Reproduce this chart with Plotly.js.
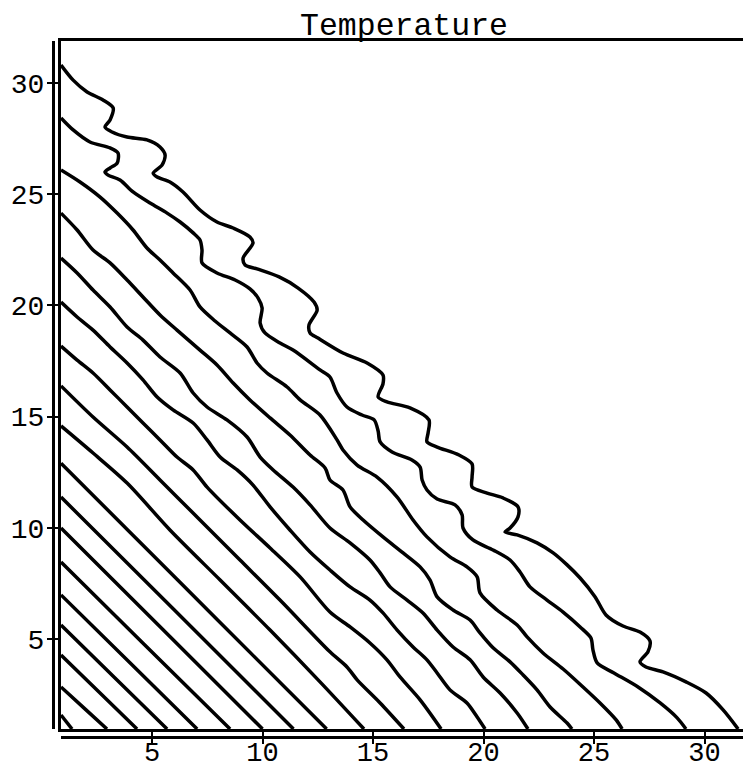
<!DOCTYPE html>
<html>
<head>
<meta charset="utf-8">
<script src="https://cdn.plot.ly/plotly-3.0.1.min.js"></script>
<style>
  html, body { margin: 0; padding: 0; background: #fff; }
  #chart { width: 743px; height: 769px; }
</style>
</head>
<body>
<div id="chart"></div>
<script>
// ---- Data (contour lines of "Temperature") ----
const line1X = [0.88,1.43,2.06,2.78,3.24,3.10,2.87,3.19,3.87,4.77,5.36,5.59,5.45,5.05,5.23,5.81,6.40,7.17,7.94,8.67,9.43,9.57,9.12,9.21,9.75,10.75,11.61,12.33,12.47,12.10,12.15,12.51,13.64,14.73,15.45,15.45,15.23,15.63,16.67,17.53,17.49,17.44,17.90,18.89,19.48,19.48,19.48,20.16,20.88,21.56,21.56,21.20,20.97,21.52,22.42,23.15,23.78,24.37,25.05,25.54,26.31,27.08,27.53,27.44,27.08,27.35,28.12,29.16,30.07,30.84,31.52];
const line1Y = [30.81,30.13,29.60,29.24,28.88,28.34,28.02,27.80,27.57,27.44,27.12,26.76,26.31,25.95,25.77,25.55,25.10,24.29,23.75,23.48,23.08,22.81,22.13,21.82,21.64,21.28,20.78,20.15,19.79,19.12,18.76,18.53,17.86,17.41,16.87,16.47,15.88,15.66,15.39,14.85,14.26,13.86,13.63,13.27,12.87,12.28,11.83,11.56,11.34,10.94,10.49,9.99,9.81,9.68,9.32,8.87,8.33,7.74,6.89,6.08,5.58,5.31,4.91,4.42,3.97,3.74,3.52,3.07,2.57,1.81,0.95];

const line2X = [0.88,1.43,2.19,3.10,3.46,3.42,3.10,2.87,3.01,3.55,4.14,4.91,5.68,6.27,6.86,7.17,7.26,7.26,7.94,8.76,9.43,9.80,9.98,9.89,10.11,10.79,11.38,12.60,13.05,13.37,13.82,14.50,15.05,15.23,15.32,15.86,16.76,17.13,17.22,17.44,17.90,18.71,19.03,19.07,19.52,20.43,21.20,21.65,22.10,22.87,23.60,24.37,24.86,24.95,25.14,25.90,26.99,27.99,28.76,29.16];
const line2Y = [28.43,27.89,27.35,27.08,26.85,26.40,26.18,26.00,25.86,25.64,25.10,24.60,24.15,23.75,23.26,22.94,22.49,21.91,21.46,21.14,20.74,20.33,19.88,19.21,18.76,18.31,17.99,17.10,16.78,16.06,15.43,15.07,14.85,14.35,13.86,13.41,13.05,12.73,12.15,11.70,11.29,11.03,10.58,9.99,9.45,9.00,8.55,8.01,7.34,6.75,6.21,5.54,5.04,4.51,3.92,3.47,2.84,2.12,1.45,0.95];

const line3X = [0.88,1.74,2.65,3.42,4.14,4.77,5.36,5.95,6.72,7.17,7.85,8.53,9.30,9.75,10.20,11.11,11.70,12.60,13.37,13.64,14.28,15.18,16.09,16.81,17.44,18.48,19.25,19.71,19.84,20.61,21.52,21.97,22.69,23.60,24.50,25.27,26.00,26.27];
const line3Y = [26.09,25.55,24.87,24.15,23.39,22.58,22.04,21.46,20.69,19.93,19.30,18.76,18.13,17.41,16.96,16.33,15.75,15.07,13.95,13.50,12.82,12.28,11.38,10.35,9.59,8.69,8.24,7.79,7.07,6.30,5.63,5.09,4.37,3.65,2.84,2.12,1.36,0.95];

const line4X = [0.88,1.61,2.33,3.10,3.87,4.59,5.36,6.13,7.17,7.94,8.67,9.43,10.34,11.24,12.15,12.83,13.05,13.64,13.96,14.55,15.45,16.36,17.13,17.58,17.90,18.62,19.39,19.84,20.43,21.20,21.79,22.42,23.01,23.78,24.00];
const line4Y = [24.15,23.39,22.49,21.91,21.14,20.38,19.57,18.89,17.99,17.32,16.51,15.75,14.94,14.17,13.27,12.69,12.15,11.70,10.94,10.35,9.59,8.87,8.24,7.65,6.89,6.30,5.85,5.27,4.60,3.97,3.38,2.71,1.94,1.22,0.95];

const line5X = [0.88,1.61,2.33,3.10,3.87,4.59,5.36,6.27,6.86,7.49,8.39,9.30,9.89,10.48,11.38,12.15,13.05,13.96,14.86,15.32,15.77,16.54,17.26,17.90,18.62,19.39,19.98,20.75,21.52,22.01];
const line5Y = [22.13,21.46,20.69,19.93,19.03,18.44,17.68,16.96,16.06,15.43,14.85,14.08,13.18,12.60,11.83,11.03,9.99,9.32,8.55,7.97,7.34,6.75,6.17,5.40,4.64,4.06,3.29,2.57,1.67,0.95];

const line6X = [0.88,1.61,2.33,3.10,3.87,4.59,5.23,5.95,6.86,7.49,8.08,8.85,9.57,10.34,11.24,12.15,13.05,13.96,14.86,15.45,16.09,16.81,17.44,17.90,18.48,19.25,19.71,20.07];
const line6Y = [20.15,19.48,18.89,18.13,17.41,16.65,15.88,15.30,14.71,13.95,13.18,12.60,11.92,10.94,9.90,8.91,8.10,7.34,6.75,6.17,5.40,4.64,4.06,3.47,2.71,2.12,1.49,0.95];

const line7X = [0.88,1.61,2.33,3.10,3.87,4.59,5.36,6.13,6.86,7.49,8.98,10.34,11.70,13.05,13.96,14.86,15.63,16.22,17.13,18.08];
const line7Y = [18.17,17.54,16.96,16.20,15.43,14.71,13.95,13.18,12.60,11.83,10.35,9.09,7.79,6.21,5.54,4.82,4.06,3.29,2.26,0.95];

const line8X = [0.88,2.33,3.87,5.36,7.17,8.98,10.79,13.05,13.82,14.28,15.32,16.40];
const line8Y = [16.38,14.98,13.63,12.15,10.35,8.55,6.75,4.42,3.74,3.16,2.12,0.95];

const line9X = [0.88,2.33,3.87,5.81,8.08,10.34,12.60,14.59];
const line9Y = [14.58,13.36,12.01,9.90,7.65,5.40,3.07,0.95];

const line10X = [0.88,4.00,8.00,12.90];
const line10Y = [12.90,9.80,5.82,0.95];
const line11X = [0.88,6.00,11.40];
const line11Y = [11.38,6.31,0.95];
const line12X = [0.88,5.50,10.00];
const line12Y = [9.99,5.41,0.95];
const line13X = [0.88,4.50,8.53];
const line13Y = [8.46,4.90,0.95];
const line14X = [0.88,4.00,7.04];
const line14Y = [6.98,3.93,0.95];
const line15X = [0.88,3.30,5.68];
const line15Y = [5.63,3.27,0.95];
const line16X = [0.88,2.60,4.32];
const line16Y = [4.28,2.61,0.95];
const line17X = [0.88,2.00,2.96];
const line17Y = [2.84,1.82,0.95];
const line18X = [0.88,1.38];
const line18Y = [1.58,0.95];

const tickVals = [5, 10, 15, 20, 25, 30];
const tickLabels = ['5', '10', '15', '20', '25', '30'];
const chartTitle = 'Temperature';

const xRange = [0.88, 31.74];
const yRange = [0.95, 31.89];

// ---- Build traces ----
const contourLines = [
  [line1X, line1Y], [line2X, line2Y], [line3X, line3Y], [line4X, line4Y],
  [line5X, line5Y], [line6X, line6Y], [line7X, line7Y], [line8X, line8Y],
  [line9X, line9Y], [line10X, line10Y], [line11X, line11Y], [line12X, line12Y],
  [line13X, line13Y], [line14X, line14Y], [line15X, line15Y], [line16X, line16Y],
  [line17X, line17Y], [line18X, line18Y]
];

const traces = contourLines.map(function (pair) {
  return {
    type: 'scatter',
    mode: 'lines',
    x: pair[0],
    y: pair[1],
    xaxis: 'x',
    yaxis: 'y',
    line: { color: '#000', width: 3.5, shape: 'spline', smoothing: 0.8 },
    hoverinfo: 'skip',
    showlegend: false
  };
});

// dummy trace so the frame (overlay) axes are created
traces.push({
  type: 'scatter', mode: 'markers', x: [null], y: [null],
  xaxis: 'x2', yaxis: 'y2', hoverinfo: 'skip', showlegend: false
});

const monoTickY = { family: "'Liberation Mono', 'DejaVu Sans Mono', monospace", size: 28, color: '#000' };
const monoTickX = { family: "'Liberation Mono', 'DejaVu Sans Mono', monospace", size: 27, color: '#000' };
const monoTitle = { family: "'Courier New', Courier, 'Nimbus Mono PS', FreeMono, 'Liberation Mono', monospace", size: 31.5, color: '#000' };

const layout = {
  width: 743,
  height: 769,
  margin: { l: 53, r: 0, t: 41, b: 32, pad: 0 },
  paper_bgcolor: '#fff',
  plot_bgcolor: '#fff',
  showlegend: false,
  title: {
    text: chartTitle,
    font: monoTitle,
    xref: 'container', x: 404 / 743, xanchor: 'center',
    yref: 'container', y: 1 - 24 / 769, yanchor: 'middle'
  },
  xaxis: {
    domain: [8 / 690, 1],
    range: xRange,
    anchor: 'free', position: 0,
    showline: true, linecolor: '#000', linewidth: 2.5,
    ticks: 'outside', ticklen: 5, tickwidth: 2, tickcolor: '#000',
    tickvals: tickVals, ticktext: tickLabels,
    tickfont: monoTickX,
    ticklabelstandoff: -15,
    showgrid: false, zeroline: false, fixedrange: true
  },
  yaxis: {
    domain: [8 / 696, 1],
    range: yRange,
    anchor: 'free', position: 0,
    showline: true, linecolor: '#000', linewidth: 2.5,
    ticks: 'outside', ticklen: 5, tickwidth: 2, tickcolor: '#000',
    tickvals: tickVals, ticktext: tickLabels,
    tickfont: monoTickY,
    ticklabelstandoff: -3,
    showgrid: false, zeroline: false, fixedrange: true
  },
  xaxis2: {
    overlaying: 'x', anchor: 'y', side: 'bottom',
    range: xRange,
    showline: true, mirror: true, linecolor: '#000', linewidth: 3,
    ticks: 'outside', ticklen: 8, tickwidth: 2, tickcolor: '#000',
    tickvals: tickVals, showticklabels: false,
    showgrid: false, zeroline: false, fixedrange: true
  },
  yaxis2: {
    overlaying: 'y', anchor: 'x', side: 'left',
    range: yRange,
    showline: true, linecolor: '#000', linewidth: 3,
    ticks: 'outside', ticklen: 8, tickwidth: 2, tickcolor: '#000',
    tickvals: tickVals, showticklabels: false,
    showgrid: false, zeroline: false, fixedrange: true
  }
};

Plotly.newPlot('chart', traces, layout, { displayModeBar: false, staticPlot: true });
</script>
</body>
</html>
